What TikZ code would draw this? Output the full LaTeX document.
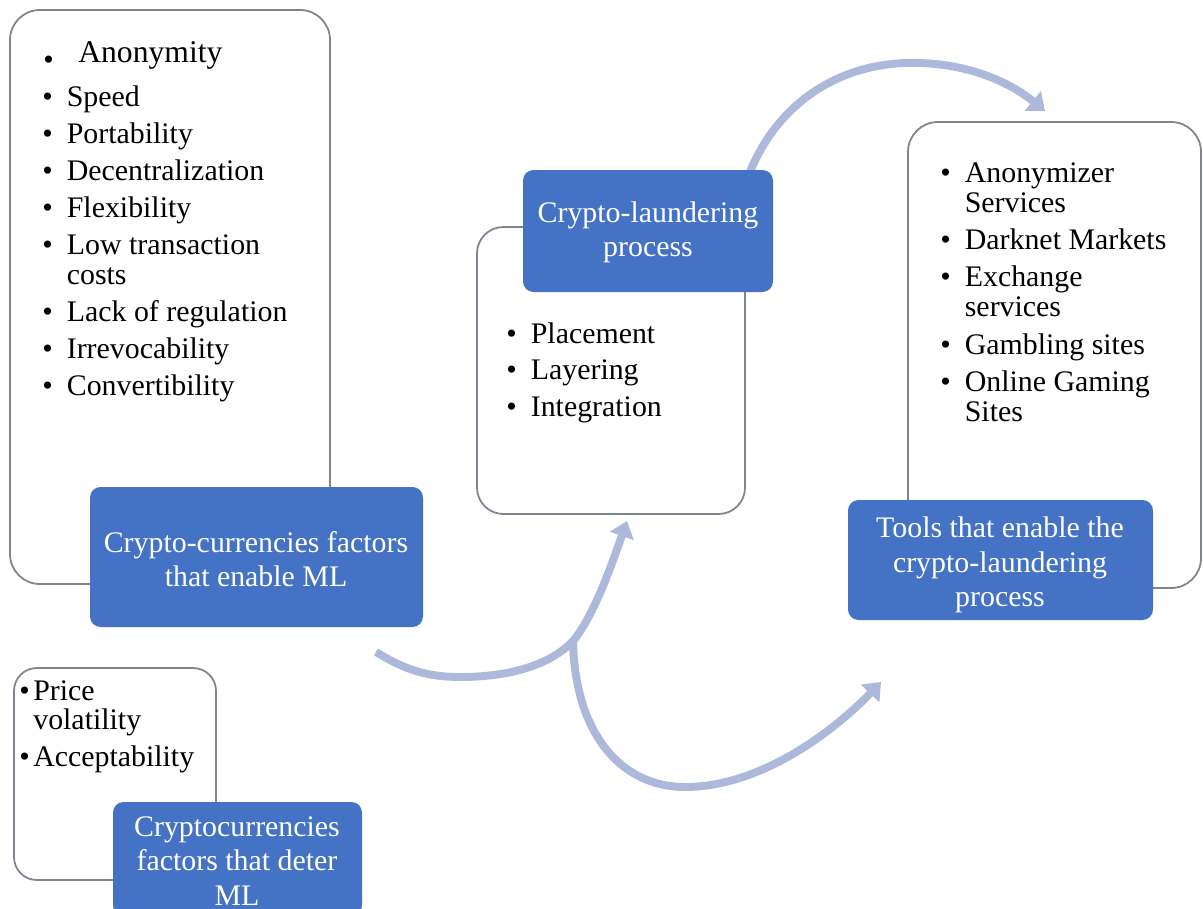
\documentclass[tikz,border=0pt]{standalone}
\usepackage{fontspec}
\setmainfont{Liberation Serif}
\usetikzlibrary{arrows.meta,fit}
\definecolor{boxblue}{RGB}{68,114,196}
\definecolor{panelline}{RGB}{125,133,142}
\definecolor{flowblue}{RGB}{172,185,219}
\begin{document}
\begin{tikzpicture}[x=0.02cm,y=-0.02cm,
  panel/.style={draw=panelline, line width=1pt, fill=white, inner sep=0pt},
  stage/.style={fill=boxblue, rounded corners=6pt, inner sep=0pt},
  stagetext/.style={inner sep=0pt, text=white, align=center,
    font=\fontsize{17}{19.5}\selectfont},
  flow/.style={draw=flowblue, line width=4.5pt, -{Triangle[width=14pt,length=9pt]}},
  listtext/.style={anchor=base west, inner sep=0pt, font=\fontsize{17}{17}\selectfont}
]
\clip (0,0) rectangle (1203,909);
\fill[white] (0,0) rectangle (1203,909);

% end points of the bending arrows
\coordinate (enableOut) at (376,652);
\coordinate (fork) at (573,641);
\coordinate (processIn) at (627,521);
\coordinate (toolsIn) at (881,682);
\coordinate (processOut) at (750,172);
\coordinate (toolsTop) at (1045,111);

% arrows (drawn first, behind the boxes)
\draw[flow] (fork) .. controls (575,735) and (622,787) .. (685,787)
  .. controls (765,787) and (840,725) .. (toolsIn);
\draw[flow] (enableOut) .. controls (405,670) and (428,677) .. (460,677)
  .. controls (510,677) and (550,665) .. (fork)
  .. controls (595,615) and (615,555) .. (processIn);
\draw[flow] (processOut) .. controls (775,110) and (830,66) .. (905,63)
  .. controls (968,61) and (1012,84) .. (toolsTop);

% white panels holding the lists
\node[panel, rounded corners=17pt, fit={(10,10) (330,584)}] (enablePanel) {};
\node[panel, rounded corners=15pt, fit={(477,227) (745,514)}] (processPanel) {};
\node[panel, rounded corners=17pt, fit={(908,122) (1201,588)}] (toolsPanel) {};
\node[panel, rounded corners=13pt, fit={(14,668) (216,880)}] (deterPanel) {};

% blue title boxes and their titles
\node[stage, fit={(90,487) (423,627)}] (enableBox) {};
\node[stage, fit={(523,170) (773,292)}] (processBox) {};
\node[stage, fit={(848,500) (1153,620)}] (toolsBox) {};
\node[stage, fit={(113,802) (362,916)}] (deterBox) {};

\node[stagetext] (enableTitle) at (256,559) {Crypto-currencies factors\\that enable ML};
\node[stagetext] (processTitle) at (648,232) {Crypto-laundering\\process};
\node[stagetext] (toolsTitle) at (1000,565) {Tools that enable the\\crypto-laundering\\process};
\node[stagetext] (deterTitle) at (237,861) {Cryptocurrencies\\factors that deter\\ML};

% lists
\node[listtext] (anonDot) at (43,63) {\raisebox{-3.5pt}{\textbullet}};
\node[listtext, font=\fontsize{18}{18}\selectfont] (anon) at (78,63) {Anonymity};

\node[listtext] (enableList) at (42,107) {\begin{tabular}[t]{@{}l@{\hspace{8pt}}l@{}}
\textbullet & Speed\\[4pt]
\textbullet & Portability\\[4pt]
\textbullet & Decentralization\\[4pt]
\textbullet & Flexibility\\[4pt]
\textbullet & Low transaction\\
 & costs\\[4pt]
\textbullet & Lack of regulation\\[4pt]
\textbullet & Irrevocability\\[4pt]
\textbullet & Convertibility
\end{tabular}};

\node[listtext, font=\fontsize{17}{17.5}\selectfont] (processList) at (506,343) {\begin{tabular}[t]{@{}l@{\hspace{8pt}}l@{}}
\textbullet & Placement\\[3.5pt]
\textbullet & Layering\\[3.5pt]
\textbullet & Integration
\end{tabular}};

\node[listtext, font=\fontsize{17}{17.2}\selectfont] (toolsList) at (940,182) {\begin{tabular}[t]{@{}l@{\hspace{8pt}}l@{}}
\textbullet & Anonymizer\\
 & Services\\[4pt]
\textbullet & Darknet Markets\\[4pt]
\textbullet & Exchange\\
 & services\\[4pt]
\textbullet & Gambling sites\\[4pt]
\textbullet & Online Gaming\\
 & Sites
\end{tabular}};

\node[listtext] (deterList) at (19,700) {\begin{tabular}[t]{@{}l@{\hspace{2pt}}l@{}}
\textbullet & Price\\
 & volatility\\[4pt]
\textbullet & Acceptability
\end{tabular}};
\end{tikzpicture}
\end{document}
